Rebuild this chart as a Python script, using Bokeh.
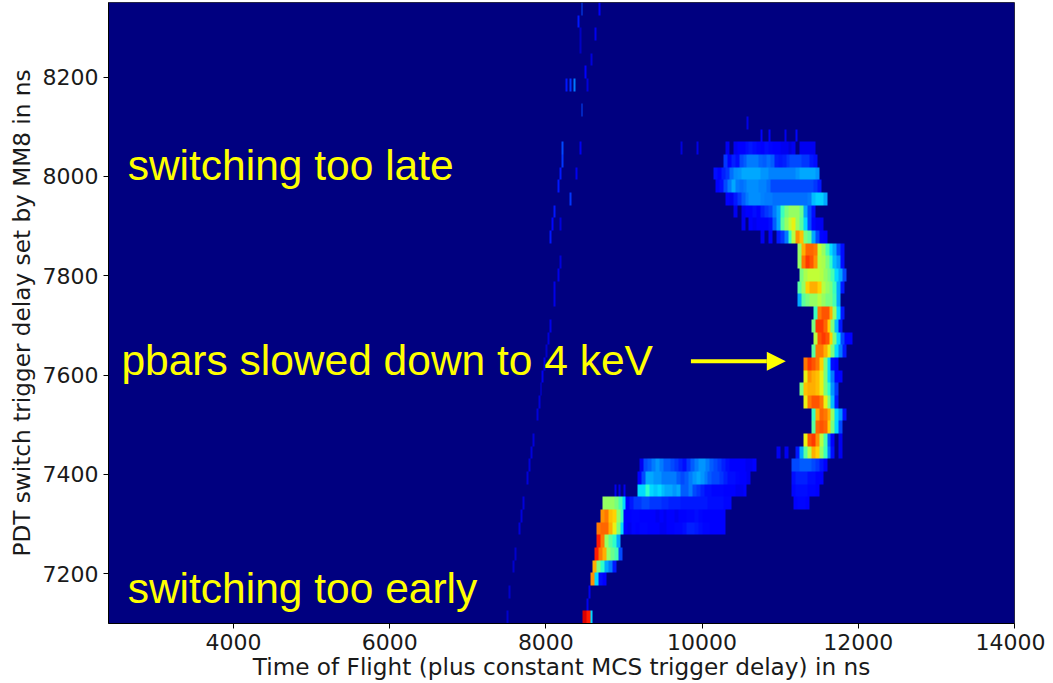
import numpy as np
from bokeh.core.properties import value
from bokeh.embed import file_html
from bokeh.models import Arrow, FixedTicker, LinearColorMapper, NormalHead
from bokeh.plotting import figure
from bokeh.resources import INLINE

# Heat map: 49 delay rows, intensities 0..1 on a 50 ns grid, each row from a start time
band_rows = [0, 3, 4, 5, 6, 7, 8, 9, 10, 11, 12, 13, 14, 15, 16, 17, 18, 19, 20, 21, 22, 23, 24, 25, 26,
             27, 28, 29, 30, 31, 32, 33, 34, 35, 36, 37]
band_starts = [8475, 8575, 8600, 8625, 8650, 8650, 8700, 8725, 9175, 9175, 9200, 10950, 11300, 11400, 11400, 11300, 11250, 11300, 11300, 11400,
               11425, 11400, 11425, 11225, 11225,
               11250, 11225, 11225, 10750, 10500, 10400, 10300, 10175, 10150, 10275, 10300]
band_values = [
    [.92, .88],
    [.75, .35, .14, .12],
    [.72, .5, .38, .3, .25, .15],
    [.88, .78, .72, .55, .48, .42, .2],
    [.88, .78, .55, .45, .38, .3],
    [.78, .8, .8, .72, .65, .5, .35, .12, .1, .13, .12, .13, .13, .12, .12, .12, .1, .1, .12, .12, .13, .13, .14, .16, .16, .15, .14, .13, .13, .12, .12, .12, .11],
    [.75, .78, .7, .68, .55, .4, .12, .12, .13, .13, .12, .12, .12, .11, .1, .12, .1, .12, .11, .1, .12, .12, .13, .13, .14, .13, .12, .12, .12, .12, .11, .11],
    [.55, .55, .55, .5, .42, .35, .12, .15, .18, .18, .2, .2, .18, .18, .18, .17, .17, .16, .16, .16, .15, .15, .15, .15, .15, .15, .15, .14, .14, .14, .14, .13, .13],
    [.35, .35, .38, .35, .33, .35, .32, .3, .3, .28, .3, .22, .22, .25, .2, .18, .16, .14, .14, .13, .13, .13, .12, .12, .12, .1, .1, .11],
    [.12, .2, .3, .3, .28, .28, .25, .25, .25, .25, .22, .2, .22, .25, .28, .3, .28, .25, .22, .2, .2, .18, .16, .14, .14, .13, .12, .12, .1],
    [.1, .2, .22, .25, .28, .25, .22, .22, .2, .18, .16, .14, .18, .22, .25, .28, .28, .25, .22, .2, .18, .16, .14, .12, .12, .12, .11, .1, .1, .11],
    [.1, .0, .1, .0, .0, .15, .3, .45, .6, .72, .68, .55, .4, .25, .14, .0, .1],
    [.65, .82, .85, .75, .6, .42, .22, .12, .0, .1],
    [.45, .8, .82, .8, .68, .5, .35, .2],
    [.4, .72, .8, .78, .72, .55, .35, .28, .14],
    [.65, .78, .82, .82, .78, .65, .5, .32, .15],
    [.5, .7, .72, .72, .7, .65, .5, .38, .28, .18],
    [.65, .75, .72, .7, .65, .5, .35, .25, .12, .11],
    [.78, .85, .82, .78, .68, .5, .35, .14, .11],
    [.45, .78, .78, .72, .65, .5, .35, .25, .15],
    [.6, .82, .85, .82, .68, .5, .35, .2, .12, .11],
    [.5, .85, .85, .8, .68, .5, .32, .15],
    [.4, .78, .82, .82, .72, .55, .35, .15],
    [.3, .45, .5, .55, .55, .6, .55, .5, .5, .42, .3],
    [.45, .55, .68, .72, .72, .68, .6, .55, .5, .4, .3, .15],
    [.5, .58, .62, .62, .62, .6, .55, .5, .42, .35, .3, .2],
    [.55, .78, .85, .82, .75, .6, .58, .5, .38, .32, .28, .14],
    [.55, .72, .8, .8, .78, .62, .55, .42, .35, .3, .2, .14],
    [.1, .0, .12, .0, .15, .18, .25, .4, .6, .75, .7, .5, .45, .3, .2, .13, .12],
    [.1, .0, .11, .1, .11, .12, .12, .14, .22, .3, .45, .55, .62, .65, .55, .45, .35, .2, .13, .1, .1],
    [.1, .0, .1, .11, .12, .14, .12, .16, .18, .2, .25, .3, .4, .5, .55, .55, .55, .48, .3, .2, .14],
    [.12, .1, .15, .18, .22, .25, .27, .27, .27, .26, .25, .25, .24, .24, .24, .24, .24, .24, .24, .24, .24, .25, .32, .34, .34, .3],
    [.12, .14, .2, .25, .3, .25, .24, .25, .27, .27, .27, .26, .26, .24, .2, .2, .2, .2, .2, .2, .2, .2, .2, .2, .2, .18, .15],
    [.14, .11, .16, .18, .24, .27, .28, .3, .3, .3, .3, .3, .28, .28, .26, .26, .26, .26, .26, .26, .26, .28, .3, .3, .3, .3, .28],
    [.18, .12, .16, .14, .2, .22, .25, .25, .25, .23, .22, .24, .22, .16, .15, .16, .18, .2, .2, .2, .18, .18, .15, .14],
    [.1, .0, .1, .12, .12, .14, .15, .14, .13, .12, .14, .13, .12, .12, .1, .1, .08, .1, .0, .1, .1, .1, .1],
]
# Second blocks sharing a row with a first one
block_rows = [9, 10, 11, 12]
block_starts = [11175, 11150, 11150, 11150]
block_values = [
    [.12, .13, .13, .12],
    [.13, .14, .14, .14, .13, .13, .12],
    [.14, .16, .16, .16, .14, .14, .12, .12],
    [.2, .2, .22, .22, .22, .2, .18, .15, .12],
]
# Single thin cells on a 25 ns grid: the faint streak and stray counts
trace_rows = [0, 1, 2, 2, 4, 5, 7, 8, 9, 11, 12, 13, 14, 16, 17, 18, 19, 20, 21, 22, 23, 25, 26, 27, 28,
              30, 31, 31, 32, 33, 34, 35, 35, 36, 37, 37, 37, 37, 38, 38, 38, 38, 39,
              40, 42, 42, 42, 42, 43, 44, 45, 46, 46, 47, 48, 48, 0, 10, 10, 10]
trace_ns = [7491, 8522, 7520, 8552, 7564, 7593, 7641, 7666, 7696, 7738, 7776, 7798, 7815, 7871, 7896, 7917, 7951, 7968, 8000, 8025, 8054, 8101, 8109, 8147, 8169,
            8054, 8186, 8066, 8101, 8293, 8147, 8373, 8165, 8190, 8207, 8421, 9730, 9933, 10752, 10854, 11046, 11199, 10573,
            8454, 8248, 8299, 8348, 8536, 8505, 8587, 8437, 8621, 8428, 8395, 8459, 8674, 8575, 8875, 8925, 9000]
trace_vals = [.07, .1, .07, .1, .07, .07, .08, .08, .08, .08, .08, .08, .08, .08, .08, .09, .1, .09, .07, .08, .09, .09, .09, .09, .08,
              .15, .08, .13, .15, .18, .15, .1, .15, .18, .2, .1, .08, .09, .12, .12, .1, .13, .09,
              .2, .15, .18, .25, .08, .12, .08, .06, .1, .06, .15, .2, .12, .35, .1, .09, .1]

x_ticks = [4000, 6000, 8000, 10000, 12000, 14000]
y_ticks = [7200, 7400, 7600, 7800, 8000, 8200]
notes = ["switching too late", "pbars slowed down to 4 keV", "switching too early"]
notes_x = [2645, 2565, 2645]
notes_y = [8022, 7630, 7170]

X0, X1, Y0, Y1 = 2400, 14000, 7100, 8350
STEP = 25
n_rows = 49
n_cols = (X1 - X0) // STEP
grid = np.zeros((n_rows, n_cols))


def put(rows, starts, vals):
    for r, s, v in zip(rows, starts, vals):
        c = int(round((s - X0) / STEP))
        cells = np.repeat(v, 2)
        grid[r, c:c + len(cells)] = cells


put(band_rows, band_starts, band_values)
put(block_rows, block_starts, block_values)
for r, s, v in zip(trace_rows, trace_ns, trace_vals):
    grid[r, int(round((s - X0) / STEP))] = v

anchors = [(0, (0, 0, 128)), (.11, (0, 0, 255)), (.125, (0, 0, 255)), (.35, (0, 219, 255)), (.375, (41, 255, 206)),
           (.64, (206, 255, 41)), (.66, (255, 230, 0)), (.89, (255, 20, 0)), (.91, (232, 0, 0)), (1, (128, 0, 0))]
pos = [a[0] for a in anchors]
jet = ["#%02x%02x%02x" % tuple(int(round(np.interp(i / 255, pos, [a[1][k] for a in anchors]))) for k in range(3))
       for i in range(256)]
mapper = LinearColorMapper(palette=jet, low=0, high=1)

p = figure(width=1041, height=680, x_range=(X0, X1), y_range=(Y0, Y1),
           output_backend="svg", toolbar_location=None,
           min_border_left=104, min_border_right=31, min_border_top=0, min_border_bottom=58,
           margin=(2, 0, 0, 4))
p.image(image=[grid], x=X0, y=Y0, dw=X1 - X0, dh=Y1 - Y0, color_mapper=mapper)
p.text(x=notes_x, y=notes_y, text=notes, text_color="#ffff00", text_font=value("Liberation Sans"),
       text_font_size="42.5px", text_baseline="alphabetic")
p.add_layout(Arrow(x_start=9857, y_start=7628, x_end=11072, y_end=7628, line_color="#ffff00", line_width=4,
                   end=NormalHead(size=19, fill_color="#ffff00", line_color="#ffff00", line_width=0)))

p.grid.visible = False
for ax, ticks in ((p.xaxis, x_ticks), (p.yaxis, y_ticks)):
    ax.ticker = FixedTicker(ticks=ticks)
    ax.minor_tick_line_color = None
    ax.major_tick_line_color = "#000000"
    ax.major_tick_out = 5
    ax.major_tick_in = 0
    ax.major_label_text_font = "DejaVu Sans"
    ax.major_label_text_font_size = "22px"
    ax.major_label_text_color = "#1a1a1a"
    ax.axis_label_text_font = "DejaVu Sans"
    ax.axis_label_text_font_size = "23.2px"
    ax.axis_label_text_font_style = "normal"
    ax.axis_label_text_color = "#1a1a1a"
p.xaxis.axis_label_standoff = 0
p.yaxis.axis_label_standoff = 5
p.xaxis.axis_label = "Time of Flight (plus constant MCS trigger delay) in ns"
p.yaxis.axis_label = "PDT switch trigger delay set by MM8 in ns"
p.yaxis.major_label_orientation = "horizontal"
p.outline_line_color = "#333333"

open("out.html", "w").write(file_html(p, INLINE))
